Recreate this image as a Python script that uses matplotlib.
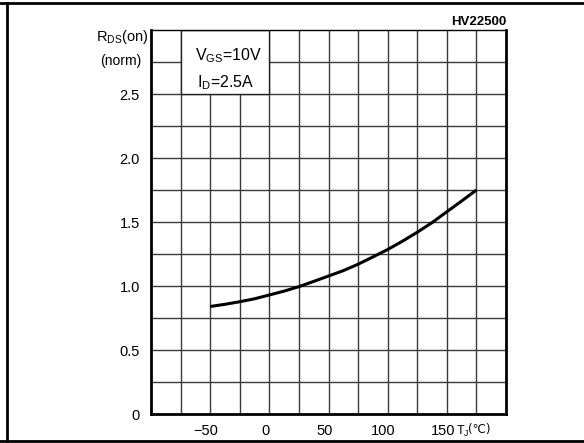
import matplotlib
matplotlib.use("Agg")
import matplotlib.pyplot as plt
from matplotlib.lines import Line2D
from matplotlib.patches import Rectangle
import matplotlib.transforms as mtrans

plt.rcParams['font.family'] = ['Liberation Sans', 'DejaVu Sans']
plt.rcParams['mathtext.fontset'] = 'custom'
plt.rcParams['mathtext.rm'] = 'Liberation Sans'

# Data
temps = [-50, -37.5, -25, -12.5, 0, 12.5, 25, 37.5, 50, 62.5, 75, 87.5,
         100, 112.5, 125, 137.5, 150, 162.5, 175]
rds_norm = [0.84, 0.857, 0.877, 0.90, 0.93, 0.96, 0.995, 1.036, 1.078, 1.12,
            1.17, 1.227, 1.285, 1.35, 1.42, 1.495, 1.58, 1.664, 1.75]
xticks = [-50, 0, 50, 100, 150]
xtick_labels = ["\u221250", "0", "50", "100", "150"]
yticks = [0, 0.5, 1.0, 1.5, 2.0, 2.5]
ytick_labels = ["0", "0.5", "1.0", "1.5", "2.0", "2.5"]

W, H = 584, 443
fig = plt.figure(figsize=(W / 100, H / 100), dpi=100)
fig.patch.set_facecolor("white")

L, R, T, B = 151, 506, 30, 414
ax = fig.add_axes([L / W, 1 - B / H, (R - L) / W, (B - T) / H])
ax.set_xlim(-100, 200)
ax.set_ylim(0, 3.0)

# grid
for gx in range(-75, 200, 25):
    ax.axvline(gx, color="#3a3a3a", lw=1.0, zorder=1)
for gy in [0.25 * i for i in range(1, 12)]:
    ax.axhline(gy, color="#3a3a3a", lw=1.0, zorder=1)

# white box for annotation
ax.add_patch(Rectangle((-75, 2.5), 75, 0.5, facecolor="white", edgecolor="#222222",
                       lw=1.0, zorder=2))
ax.text(-63, 2.8, "V$_{\\mathrm{GS}}$=10V", fontsize=11.5, ha="left", va="center",
        zorder=3, color="black")
ax.text(-13, 2.59, "I$_{\\mathrm{D}}$=2.5A", fontsize=11.5, ha="right", va="center",
        zorder=3, color="black")

ax.plot(temps, rds_norm, color="black", lw=2.2, zorder=4,
        solid_capstyle="butt", solid_joinstyle="round")

ax.set_xticks(xticks)
ax.set_xticklabels(xtick_labels, fontsize=10.5)
ax.set_yticks(yticks)
ax.set_yticklabels(ytick_labels, fontsize=10.5)
ax.tick_params(axis="x", length=0, pad=7)
ax.tick_params(axis="y", length=0, pad=8)

for s in ["left", "bottom", "right"]:
    ax.spines[s].set_linewidth(2.0)
ax.spines["top"].set_linewidth(1.0)
for s in ax.spines.values():
    s.set_zorder(5)

# axis labels
fig.text(148 / W, 1 - 37 / H, "R$_{\\mathrm{DS}}$(on)", fontsize=10.5, ha="right", va="center")
fig.text(141 / W, 1 - 61 / H, "(norm)", fontsize=10, ha="right", va="center")
fig.text(456 / W, 1 - 431 / H, "T$_{\\mathrm{J}}$", fontsize=9, ha="left", va="center")
fig.text(468 / W, 1 - 430 / H, "(\u2103)", fontsize=8.5, ha="left", va="center",
         family="DejaVu Sans")
fig.text(506 / W, 1 - 22 / H, "HV22500", fontsize=9.5, ha="right", va="center",
         fontweight="bold")

# outer frame
fig.add_artist(Line2D([0, 1], [1 - 3 / H, 1 - 3 / H], color="black", lw=2.0, transform=fig.transFigure))
fig.add_artist(Line2D([0, 1], [1 - 441 / H, 1 - 441 / H], color="black", lw=2.0, transform=fig.transFigure))
fig.add_artist(Line2D([7 / W, 7 / W], [1 - 441 / H, 1 - 3 / H], color="black", lw=2.0, transform=fig.transFigure))

fig.canvas.draw()
# shift x tick labels slightly left like the reference
offset = mtrans.ScaledTranslation(-4 / 100, 0, fig.dpi_scale_trans)
for lab in ax.get_xticklabels():
    lab.set_transform(lab.get_transform() + offset)

fig.savefig("out.png", dpi=100, facecolor="white")
